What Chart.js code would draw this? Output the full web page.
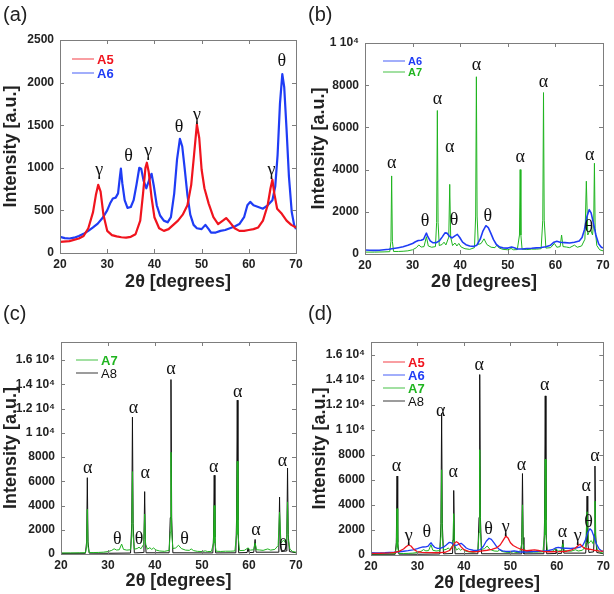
<!DOCTYPE html>
<html>
<head>
<meta charset="utf-8">
<script src="https://cdn.jsdelivr.net/npm/chart.js@4.4.1/dist/chart.umd.min.js"></script>
<style>
  body { margin: 0; background: #fff; }
  #wrap { position: relative; width: 614px; height: 594px; }
  canvas { position: absolute; }
  .tag { position: absolute; font: 20px "Liberation Sans", Arial, sans-serif; color: #222; line-height: 20px; }
</style>
</head>
<body>
<div id="wrap">
  <canvas id="cA" width="307" height="297" style="left:0;top:0"></canvas>
  <canvas id="cB" width="307" height="297" style="left:307px;top:0"></canvas>
  <canvas id="cC" width="307" height="297" style="left:0;top:297px"></canvas>
  <canvas id="cD" width="307" height="297" style="left:307px;top:297px"></canvas>
  <div class="tag" style="left:3px;top:4px">(a)</div>
  <div class="tag" style="left:308px;top:4px">(b)</div>
  <div class="tag" style="left:3px;top:303px">(c)</div>
  <div class="tag" style="left:308px;top:303px">(d)</div>
</div>
<script>
// 2theta [deg], intensity [a.u.]
const a5 = [[20,130],[22,140],[24,170],[25,200],[26,290],[27,480],[27.6,680],[28.1,800],[28.6,720],[29.2,450],[30,260],[31,210],[32,195],[33,185],[34,180],[35,190],[36,220],[37,380],[37.6,700],[38.1,1000],[38.4,1060],[38.8,950],[39.4,650],[40,420],[41,290],[42,260],[43,280],[44,330],[45,380],[46,450],[47,560],[47.8,800],[48.4,1150],[49,1510],[49.5,1350],[50,980],[50.6,760],[51.5,580],[52.5,420],[53.5,340],[54.5,380],[55.2,410],[56,360],[57,290],[58,260],[59,260],[60,270],[61,280],[62,300],[63,380],[64,560],[64.6,760],[65,860],[65.4,700],[66,520],[67,460],[68,380],[69,330],[70,300]];

const a6 = [[20,190],[21,175],[22,170],[23,180],[24,200],[25,225],[26,260],[27,300],[28,345],[29,410],[30,500],[30.6,580],[31.2,640],[31.8,650],[32.3,700],[32.7,900],[32.9,990],[33.2,820],[33.7,620],[34.3,530],[35,540],[35.6,620],[36.2,800],[36.8,1000],[37.2,990],[37.7,850],[38.3,760],[38.9,860],[39.4,930],[39.9,780],[40.5,560],[41.2,440],[42,380],[42.8,360],[43.5,420],[44.2,700],[44.8,1100],[45.4,1340],[45.9,1250],[46.4,1000],[47,680],[47.6,450],[48.3,330],[49,290],[50,280],[50.8,330],[51.5,280],[52,240],[53,240],[54,260],[55,270],[56,290],[57,310],[58,340],[59,420],[59.7,560],[60.3,600],[61,560],[62,540],[63,520],[64,560],[65,620],[65.6,780],[66.1,1150],[66.6,1750],[67.1,2100],[67.5,1950],[68,1450],[68.5,900],[69.1,480],[69.6,330],[70,280]];

const a7 = [[20,90],[22,90],[24,100],[25.2,110],[25.45,600],[25.6,3700],[25.75,600],[26,120],[27,120],[28,130],[29,150],[30,200],[30.8,300],[31.3,430],[31.8,330],[32.4,350],[32.9,820],[33.3,380],[34,320],[34.8,350],[35.05,1500],[35.2,6800],[35.35,1500],[35.6,400],[36.2,450],[36.6,560],[37,430],[37.6,800],[37.8,3300],[38,800],[38.4,400],[38.9,520],[39.3,380],[39.7,500],[40.2,330],[41,250],[42,220],[43,300],[43.25,1800],[43.4,8400],[43.55,1800],[43.8,450],[44.4,500],[45,720],[45.6,450],[46.5,320],[47.3,300],[47.7,420],[48.2,280],[49,220],[50,200],[50.7,260],[51.2,200],[52,210],[52.45,900],[52.6,4000],[52.75,900],[53,230],[54,210],[55,230],[56,230],[57,250],[57.35,1600],[57.5,7650],[57.65,1600],[58,280],[59,300],[59.8,500],[60.3,320],[61,350],[61.3,900],[61.6,350],[62.3,330],[63,300],[64,420],[64.6,320],[65.5,380],[66.2,700],[66.5,3450],[66.8,900],[67.1,1050],[67.4,1150],[67.8,900],[68.05,1500],[68.2,4300],[68.35,1200],[68.7,400],[69.3,200],[70,150]];

const a8 = [[20,50],[25.2,60],[25.45,1000],[25.6,6300],[25.75,1000],[26,70],[30,60],[34.8,80],[35.05,2500],[35.2,11300],[35.35,2500],[35.6,90],[37.55,120],[37.65,1200],[37.8,5150],[37.95,1200],[38.1,100],[43,100],[43.25,3000],[43.4,14400],[43.55,3000],[43.8,100],[52.3,90],[52.45,1400],[52.6,6500],[52.75,1400],[52.9,90],[57.2,100],[57.35,2800],[57.5,12700],[57.65,2800],[57.8,100],[59.6,120],[59.8,500],[60,120],[61,130],[61.3,1200],[61.5,150],[66.2,150],[66.35,1000],[66.5,4700],[66.65,1000],[66.9,200],[67.9,250],[68.05,1600],[68.2,7100],[68.35,1600],[68.6,200],[70,100]];

// axis ticks
const xTicks = [20, 30, 40, 50, 60, 70];
const yTicksA = [0, 500, 1000, 1500, 2000, 2500];
const yTicksB = [0, 2000, 4000, 6000, 8000, 10000];
const yTicksCD = [0, 2000, 4000, 6000, 8000, 10000, 12000, 14000, 16000];

// phase marks: symbol, 2theta, intensity
const marksA = [['γ',28.3,970],['θ',34.5,1130],['γ',38.7,1190],['θ',45.2,1480],['γ',49.0,1620],['γ',64.8,970],['θ',67.0,2245]];
const marksB = [['α',25.6,4300],['α',35.2,7330],['α',37.8,5080],['α',43.4,8940],['α',52.6,4600],['α',57.5,8150],['α',67.2,4680],['θ',32.6,1530],['θ',38.7,1610],['θ',45.8,1770],['θ',67.0,1290]];
const marksC = [['α',25.7,7070],['θ',32.0,1210],['α',35.4,12000],['θ',36.6,1210],['α',37.9,6650],['α',43.4,15230],['θ',46.3,1210],['α',52.5,7200],['α',57.6,13390],['α',61.5,1980],['θ',67.3,600],['α',67.1,7620]];
const marksD = [['α',25.5,7070],['γ',28.1,1460],['θ',32.0,1850],['α',35.0,11440],['α',37.7,6600],['α',43.3,15150],['θ',45.3,2040],['γ',49.0,2250],['α',52.4,7200],['α',57.4,13510],['α',61.2,1780],['γ',64.5,1460],['θ',66.8,2620],['α',66.3,5480],['α',68.2,7920]];

const RED = '#f0141e', BLUE = '#1f3cf5', GREEN = '#1fb41f', BLACK = '#111111';

const xy = arr => arr.map(([x, y]) => ({x: x, y: y}));

const frameTicks = {
    id: 'frameTicks',
    afterDatasetsDraw(chart) {
        const {ctx, chartArea: a, scales: {x, y}} = chart;
        ctx.save();
        ctx.strokeStyle = '#7d7d7d';
        ctx.lineWidth = 1;
        ctx.beginPath();
        x.ticks.forEach(t => {
            const px = Math.round(x.getPixelForValue(t.value)) + 0.5;
            ctx.moveTo(px, a.bottom); ctx.lineTo(px, a.bottom - 4);
            ctx.moveTo(px, a.top); ctx.lineTo(px, a.top + 4);
        });
        y.ticks.forEach(t => {
            const py = Math.round(y.getPixelForValue(t.value)) + 0.5;
            ctx.moveTo(a.left, py); ctx.lineTo(a.left + 4, py);
            ctx.moveTo(a.right, py); ctx.lineTo(a.right - 4, py);
        });
        ctx.stroke();
        ctx.strokeRect(Math.round(a.left) + 0.5, Math.round(a.top) + 0.5,
            Math.round(a.right - a.left), Math.round(a.bottom - a.top));
        ctx.restore();
    }
};

const peakMarks = {
    id: 'peakMarks',
    afterDatasetsDraw(chart, args, opts) {
        const {ctx, scales: {x, y}} = chart;
        ctx.save();
        ctx.font = '18px "Liberation Serif", "DejaVu Serif", serif';
        ctx.fillStyle = '#111';
        ctx.textAlign = 'center';
        ctx.textBaseline = 'middle';
        (opts.items || []).forEach(([s, px, py]) => {
            ctx.fillText(s, x.getPixelForValue(px), y.getPixelForValue(py));
        });
        ctx.restore();
    }
};

const boxLegend = {
    id: 'boxLegend',
    afterDraw(chart, args, opts) {
        const {ctx, chartArea: a} = chart;
        ctx.save();
        ctx.textBaseline = 'middle';
        ctx.textAlign = 'left';
        chart.data.datasets.forEach((ds, i) => {
            const yy = a.top + opts.top + i * opts.gap;
            ctx.strokeStyle = ds.borderColor;
            ctx.globalAlpha = 0.55;
            ctx.lineWidth = 1.5;
            ctx.beginPath();
            ctx.moveTo(a.left + opts.left, yy);
            ctx.lineTo(a.left + opts.left + 22, yy);
            ctx.stroke();
            ctx.globalAlpha = 1;
            ctx.fillStyle = ds.borderColor;
            ctx.font = (ds.label === 'A8' ? '' : 'bold ') + opts.size + 'px "Liberation Sans", Arial, sans-serif';
            ctx.fillText(ds.label, a.left + opts.left + 25, yy + 1);
        });
        ctx.restore();
    }
};

function sup(v) {
    return v >= 10000 ? (v / 10000) + ' 10\u2074' : String(v);
}

function makeChart(id, sets, box) {
    const tickFont = {family: '"Liberation Sans", Arial, sans-serif', size: 12, weight: 'bold'};
    const titleFont = {family: '"Liberation Sans", Arial, sans-serif', size: 18, weight: 'bold'};
    return new Chart(document.getElementById(id).getContext('2d'), {
        type: 'line',
        data: {
            datasets: sets.map(s => ({
                label: s.label,
                data: xy(s.data),
                borderColor: s.color,
                borderWidth: s.width,
                pointRadius: 0,
                tension: 0,
                borderJoinStyle: 'round'
            }))
        },
        options: {
            responsive: false,
            animation: false,
            devicePixelRatio: 1,
            layout: {padding: {top: box.top, right: box.right, left: 0, bottom: 0}},
            scales: {
                x: {
                    type: 'linear', min: 20, max: 70,
                    grid: {display: false, drawTicks: false},
                    border: {display: false},
                    ticks: {font: tickFont, color: '#222', padding: 4, maxRotation: 0},
                    afterBuildTicks: s => { s.ticks = xTicks.map(v => ({value: v})); },
                    title: {display: true, text: '2θ [degrees]', font: titleFont, color: '#222', padding: {top: 0, bottom: box.xt}},
                    afterFit: s => { s.height = box.xh; }
                },
                y: {
                    type: 'linear', min: 0, max: box.ymax,
                    grid: {display: false, drawTicks: false},
                    border: {display: false},
                    ticks: {font: tickFont, color: '#222', padding: 6, callback: v => sup(v)},
                    afterBuildTicks: s => { s.ticks = box.yticks.map(v => ({value: v})); },
                    title: {display: true, text: 'Intensity [a.u.]', font: titleFont, color: '#222', padding: {top: box.yt, bottom: 0}},
                    afterFit: s => { s.width = box.yw; }
                }
            },
            plugins: {
                legend: {display: false},
                tooltip: {enabled: false},
                peakMarks: {items: box.marks},
                boxLegend: box.legend
            }
        },
        plugins: [frameTicks, peakMarks, boxLegend]
    });
}

document.addEventListener('DOMContentLoaded', function() {
    makeChart('cA', [
        {label: 'A5', data: a5, color: RED, width: 2.2},
        {label: 'A6', data: a6, color: BLUE, width: 2.2}
    ], {top: 40, right: 11, xh: 44, yw: 60, ymax: 2500, yticks: yTicksA, xt: 4, yt: 0, marks: marksA,
        legend: {left: 12, top: 19, gap: 14, size: 13}});

    makeChart('cB', [
        {label: 'A6', data: a6, color: BLUE, width: 1.6},
        {label: 'A7', data: a7, color: GREEN, width: 1}
    ], {top: 43, right: 11, xh: 43, yw: 58, ymax: 10000, yticks: yTicksB, xt: 4, yt: 1, marks: marksB,
        legend: {left: 18, top: 18, gap: 11, size: 11}});

    makeChart('cC', [
        {label: 'A7', data: a7, color: GREEN, width: 1},
        {label: 'A8', data: a8, color: BLACK, width: 1}
    ], {top: 45, right: 11, xh: 40, yw: 61, ymax: 17500, yticks: yTicksCD, xt: 2, yt: 0, marks: marksC,
        legend: {left: 15, top: 18, gap: 13, size: 13}});

    makeChart('cD', [
        {label: 'A5', data: a5, color: RED, width: 1.3},
        {label: 'A6', data: a6, color: BLUE, width: 1.3},
        {label: 'A7', data: a7, color: GREEN, width: 1},
        {label: 'A8', data: a8, color: BLACK, width: 1}
    ], {top: 45, right: 7, xh: 39, yw: 64, ymax: 17000, yticks: yTicksCD, xt: 0, yt: 2, marks: marksD,
        legend: {left: 12, top: 20, gap: 13, size: 13}});
});
</script>
</body>
</html>
